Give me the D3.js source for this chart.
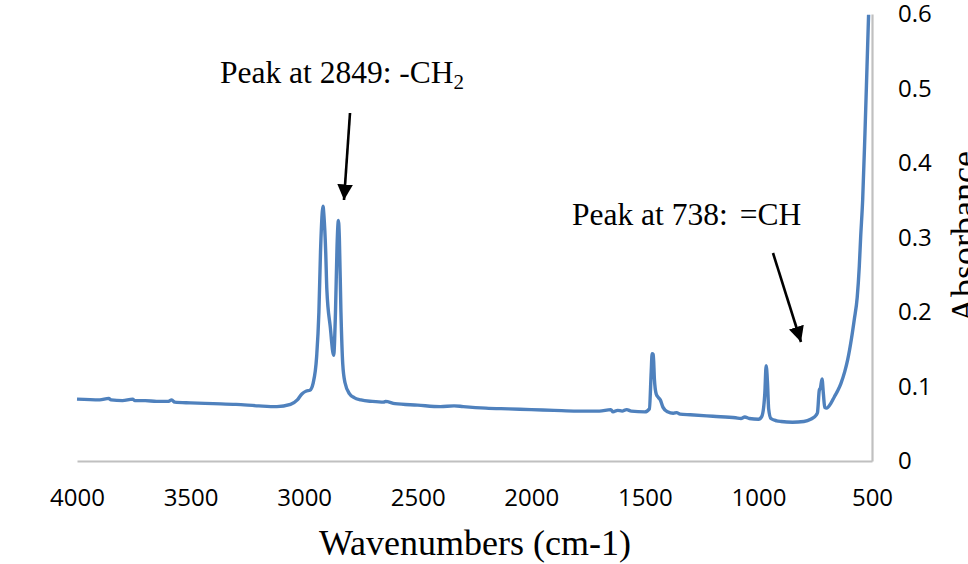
<!DOCTYPE html>
<html>
<head>
<meta charset="utf-8">
<script src="https://cdn.jsdelivr.net/npm/d3@7"></script>
<style>
  html, body { margin: 0; padding: 0; background: #fff; }
  svg { display: block; }
</style>
</head>
<body>
<svg id="chart" width="968" height="564"></svg>
<script>
// Spectrum (wavenumber, absorbance)
const wavenumbers = [4000, 3900, 3860, 3850, 3800, 3755, 3745, 3700, 3650, 3600, 3583, 3570, 3500, 3400, 3300, 3200, 3120,
    3060, 3030, 3010, 2990, 2975, 2960, 2945, 2935, 2928, 2920, 2917, 2913, 2905, 2900, 2885, 2870, 2862, 2855, 2849,
    2845, 2838, 2830, 2820, 2800, 2780, 2750, 2700, 2650, 2642, 2600, 2500, 2400, 2340, 2300, 2200, 2100, 2000, 1900,
    1800, 1700, 1650, 1640, 1620, 1600, 1580, 1560, 1500, 1480, 1472, 1468, 1463, 1458, 1450, 1440, 1432, 1420, 1400,
    1375, 1360, 1345, 1300, 1200, 1100, 1077, 1060, 1040, 1000, 985, 972, 966, 960, 955, 945, 920, 900, 850, 800, 770,
    745, 740, 732, 727, 720, 714, 708, 700, 680, 666, 650, 637, 620, 607, 590, 578, 565, 556, 550, 541, 531, 522, 515];
const absorbance = [0.083, 0.082, 0.084, 0.082, 0.081, 0.083, 0.081, 0.081, 0.080, 0.080, 0.082, 0.079, 0.078, 0.077, 0.076, 0.074, 0.073,
    0.076, 0.082, 0.090, 0.094, 0.095, 0.105, 0.14, 0.2, 0.28, 0.335, 0.342, 0.33, 0.28, 0.23, 0.18, 0.142, 0.2, 0.29, 0.323,
    0.3, 0.2, 0.13, 0.105, 0.09, 0.085, 0.082, 0.080, 0.079, 0.080, 0.077, 0.075, 0.073, 0.074, 0.073, 0.071, 0.070, 0.069, 0.068,
    0.067, 0.067, 0.069, 0.066, 0.068, 0.067, 0.069, 0.067, 0.066, 0.07, 0.12, 0.144, 0.143, 0.11, 0.09, 0.085, 0.082, 0.072, 0.066,
    0.064, 0.065, 0.063, 0.062, 0.060, 0.058, 0.057, 0.059, 0.057, 0.056, 0.060, 0.09, 0.128, 0.105, 0.07, 0.057, 0.054, 0.053, 0.052, 0.053, 0.056,
    0.062, 0.065, 0.095, 0.098, 0.11, 0.09, 0.072, 0.071, 0.078, 0.086, 0.095, 0.104, 0.12, 0.136, 0.165, 0.19, 0.22, 0.261, 0.30, 0.351, 0.44, 0.529, 0.599];

const xTicks = [4000, 3500, 3000, 2500, 2000, 1500, 1000, 500];
const yTicks = [0, 0.1, 0.2, 0.3, 0.4, 0.5, 0.6];

const svg = d3.select('#chart');
const margin = { top: 14, right: 96, bottom: 103, left: 77 };
const width = 968, height = 564;
const inner = { w: width - margin.left - margin.right, h: height - margin.top - margin.bottom };

const x = d3.scaleLinear().domain([4000, 500]).range([margin.left, margin.left + inner.w]);
const y = d3.scaleLinear().domain([0, 0.6]).range([margin.top + inner.h, margin.top]);

const sans = '"Open Sans", sans-serif';
const serif = '"Liberation Serif", "Times New Roman", serif';

// Axes (no tick marks, grey domain lines)
const xAxis = svg.append('g')
    .attr('transform', `translate(0,${margin.top + inner.h})`)
    .call(d3.axisBottom(x).tickValues(xTicks).tickSize(0).tickPadding(28).tickFormat(d3.format('d')));
xAxis.select('.domain').attr('stroke', '#c0c0c0').attr('stroke-width', 2.2);
xAxis.selectAll('text')
    .style('font-family', sans)
    .style('font-size', '24px')
    .attr('fill', '#000');

const yAxis = svg.append('g')
    .attr('transform', `translate(${margin.left + inner.w},0)`)
    .call(d3.axisRight(y).tickValues(yTicks).tickSize(0).tickPadding(26).tickFormat(d => d === 0 ? '0' : d3.format('.1f')(d)));
yAxis.select('.domain').attr('stroke', '#c0c0c0').attr('stroke-width', 2.2);
yAxis.selectAll('text')
    .style('font-family', sans)
    .style('font-size', '24px')
    .attr('fill', '#000');

// Spectrum line
const pts = wavenumbers.map((w, i) => [w, absorbance[i]]);
const line = d3.line()
    .x(d => x(d[0]))
    .y(d => y(d[1]))
    .curve(d3.curveMonotoneX);
svg.append('path')
    .datum(pts)
    .attr('d', line)
    .attr('fill', 'none')
    .attr('stroke', '#4f81bd')
    .attr('stroke-width', 3.4)
    .attr('stroke-linejoin', 'round');

// Axis titles
svg.append('text')
    .attr('x', 475)
    .attr('y', 555)
    .attr('text-anchor', 'middle')
    .style('font-family', serif)
    .style('font-size', '36px')
    .text('Wavenumbers (cm-1)');

svg.append('text')
    .attr('transform', 'translate(976,237) rotate(-90)')
    .attr('text-anchor', 'middle')
    .style('font-family', serif)
    .style('font-size', '36px')
    .text('Absorbance');

// Annotations
svg.append('defs').append('marker')
    .attr('id', 'head')
    .attr('viewBox', '0 0 10 10')
    .attr('refX', 10).attr('refY', 5)
    .attr('markerWidth', 6).attr('markerHeight', 6)
    .attr('markerUnits', 'strokeWidth')
    .attr('orient', 'auto')
    .append('path')
    .attr('d', 'M0,0 L10,5 L0,10 z')
    .attr('fill', '#000');

const t1 = svg.append('text')
    .attr('x', 220).attr('y', 83)
    .style('font-family', serif)
    .style('font-size', '31.5px');
t1.append('tspan').text('Peak at 2849: -CH');
t1.append('tspan').attr('dy', 6).style('font-size', '21px').text('2');

const t2 = svg.append('text')
    .attr('x', 572).attr('y', 225)
    .style('font-family', serif)
    .style('font-size', '31.5px');
t2.append('tspan').text('Peak at 738:');
t2.append('tspan').attr('dx', 12).text('=CH');

svg.append('line')
    .attr('x1', 350).attr('y1', 113)
    .attr('x2', 344).attr('y2', 200)
    .attr('stroke', '#000').attr('stroke-width', 2.6)
    .attr('marker-end', 'url(#head)');

svg.append('line')
    .attr('x1', 773).attr('y1', 253)
    .attr('x2', 801).attr('y2', 342)
    .attr('stroke', '#000').attr('stroke-width', 2.6)
    .attr('marker-end', 'url(#head)');
</script>
</body>
</html>
